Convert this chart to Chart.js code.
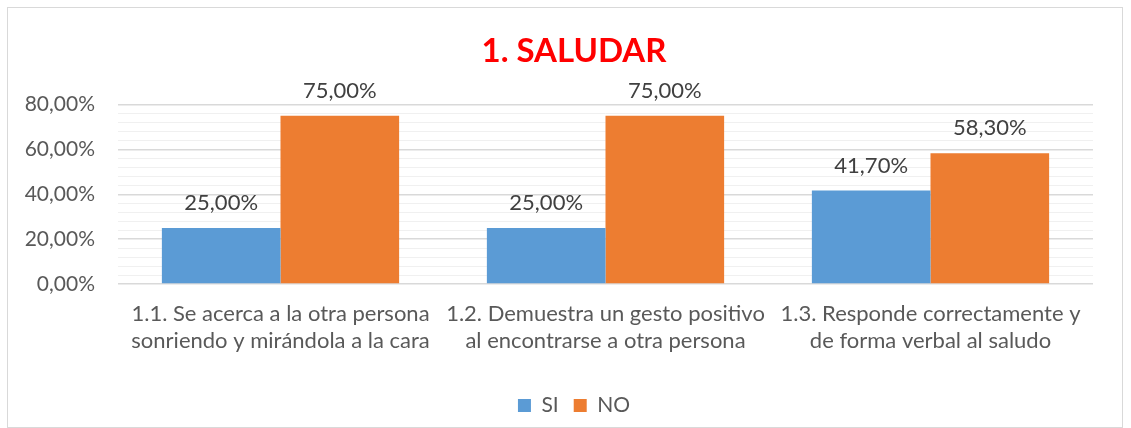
<!DOCTYPE html>
<html>
<head>
<meta charset="utf-8">
<script src="https://cdn.jsdelivr.net/npm/chart.js@4"></script>
<style>
  html, body { margin: 0; padding: 0; background: #fff; }
  #wrap { width: 1131px; height: 428px; position: relative; }
</style>
</head>
<body>
<div id="wrap"><canvas id="grafico" width="1131" height="428"></canvas></div>
<script>
// datos del grafico
const categorias = [
  ['1.1. Se acerca a la otra persona', 'sonriendo y mirándola a la cara'],
  ['1.2. Demuestra un gesto positivo', 'al encontrarse a otra persona'],
  ['1.3. Responde correctamente y', 'de forma verbal al saludo']
];
const valoresSi = [25.0, 25.0, 41.7];
const valoresNo = [75.0, 75.0, 58.3];

const fuente = 'Lato, "Open Sans", sans-serif';

const formato = v => v.toFixed(2).replace('.', ',') + '%';

// etiquetas encima de cada barra y marco del grafico
const etiquetas = {
  id: 'etiquetas',
  afterDatasetsDraw(chart) {
    const ctx = chart.ctx;
    ctx.save();
    ctx.font = '22px ' + fuente;
    ctx.fillStyle = '#404040';
    ctx.textAlign = 'center';
    ctx.textBaseline = 'middle';
    chart.data.datasets.forEach((ds, i) => {
      chart.getDatasetMeta(i).data.forEach((bar, j) => {
        ctx.fillText(formato(ds.data[j]), bar.x, bar.y - 25);
      });
    });
    ctx.restore();
  },
  afterDraw(chart) {
    const ctx = chart.ctx;
    ctx.save();
    ctx.strokeStyle = '#d9d9d9';
    ctx.lineWidth = 1;
    ctx.strokeRect(7.5, 7.5, 1115, 420);
    ctx.restore();
  }
};

new Chart(document.getElementById('grafico').getContext('2d'), {
  type: 'bar',
  data: {
    labels: categorias,
    datasets: [
      { label: 'SI', data: valoresSi, backgroundColor: '#5b9bd5' },
      { label: 'NO', data: valoresNo, backgroundColor: '#ed7d31' }
    ]
  },
  options: {
    responsive: false,
    animation: false,
    layout: { padding: { left: 25, right: 8, top: 28, bottom: 2 } },
    datasets: { bar: { categoryPercentage: 0.73, barPercentage: 1.0 } },
    plugins: {
      title: {
        display: true,
        text: '1. SALUDAR',
        color: '#ff0000',
        font: { family: fuente, size: 33, weight: 'bold' },
        padding: { top: 4, bottom: 33 }
      },
      legend: {
        position: 'bottom',
        labels: {
          color: '#595959',
          font: { family: fuente, size: 21 },
          boxWidth: 13,
          boxHeight: 13,
          padding: 15
        }
      },
      tooltip: { enabled: false }
    },
    scales: {
      x: {
        grid: { display: false },
        border: { display: false },
        ticks: {
          autoSkip: false,
          color: '#595959',
          font: { family: fuente, size: 22, lineHeight: 1.227 },
          maxRotation: 0,
          padding: 8
        },
        afterFit: s => { s.height += 18; }
      },
      y: {
        min: 0,
        max: 80,
        border: { display: false },
        grid: {
          drawTicks: false,
          color: c => (c.tick && c.tick.value % 20 === 0) ? '#d9d9d9' : '#f0f0f0',
          lineWidth: c => (c.tick && c.tick.value % 20 === 0) ? 1.5 : 1
        },
        ticks: {
          stepSize: 4,
          autoSkip: false,
          color: '#595959',
          font: { family: fuente, size: 21 },
          padding: 23,
          callback: v => v % 20 === 0 ? formato(v) : ''
        },
        afterFit: s => { s.width = 93; }
      },
      // eje vacio a la derecha, solo para dejar margen
      margen: {
        position: 'right',
        grid: { display: false },
        border: { display: false },
        ticks: { display: false },
        afterFit: s => { s.width = 30; }
      }
    }
  },
  plugins: [etiquetas]
});
</script>
</body>
</html>
